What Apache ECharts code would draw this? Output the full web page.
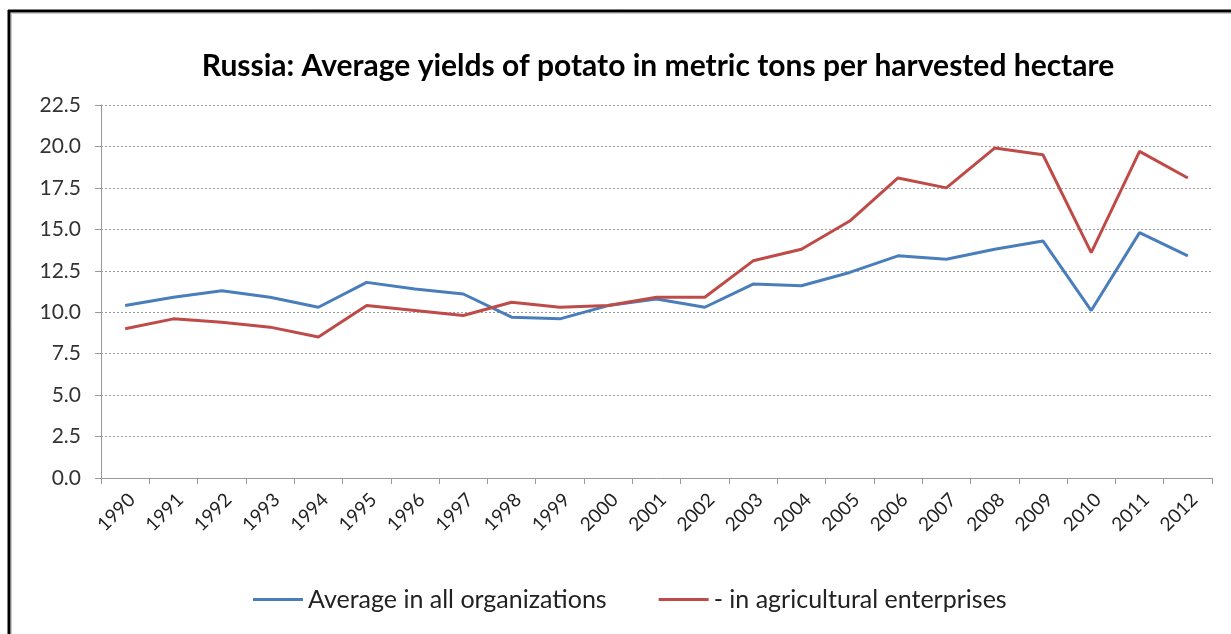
<!DOCTYPE html>
<html><head><meta charset="utf-8">
<script src="https://cdn.jsdelivr.net/npm/echarts@6/dist/echarts.min.js"></script>
<style>html,body{margin:0;padding:0;background:#fff}#c{width:1231px;height:634px}</style>
</head><body><div id="c"></div>
<script>
const years = ['1990','1991','1992','1993','1994','1995','1996','1997','1998','1999','2000','2001','2002','2003','2004','2005','2006','2007','2008','2009','2010','2011','2012'];
const avgAll = [10.4,10.9,11.3,10.9,10.3,11.8,11.4,11.1,9.7,9.6,10.4,10.8,10.3,11.7,11.6,12.4,13.4,13.2,13.8,14.3,10.1,14.8,13.4];
const agriEnt = [9.0,9.6,9.4,9.1,8.5,10.4,10.1,9.8,10.6,10.3,10.4,10.9,10.9,13.1,13.8,15.5,18.1,17.5,19.9,19.5,13.6,19.7,18.1];
const seriesNames = ['Average in all organizations','- in agricultural enterprises'];
const yTicks = {min:0, max:22.5, interval:2.5};

const chart = echarts.init(document.getElementById('c'));
chart.setOption({
  animation:false,
  backgroundColor:'#fff',
  title:{text:'Russia: Average yields of potato in metric tons per harvested hectare',left:653,top:46,textAlign:'center',
    textStyle:{fontFamily:'Lato',fontWeight:'bold',fontSize:30,color:'#000'}},
  legend:{top:582,left:248,itemGap:52,itemWidth:50,itemHeight:3,icon:'rect',
    textStyle:{fontFamily:'Lato',fontSize:25,color:'#222'},data:seriesNames},
  grid:{left:101,right:19,top:105,bottom:156,containLabel:false},
  xAxis:{type:'category',data:years,boundaryGap:true,
    axisLine:{lineStyle:{color:'#999',width:1}},
    axisTick:{show:true,length:6,lineStyle:{color:'#999'}},
    axisLabel:{rotate:45,fontFamily:'Lato',fontSize:19,color:'#222',margin:12,verticalAlign:'top'}},
  yAxis:{type:'value',min:yTicks.min,max:yTicks.max,interval:yTicks.interval,
    axisLine:{show:true,lineStyle:{color:'#999'}},
    axisTick:{show:true,length:6,lineStyle:{color:'#999'}},
    axisLabel:{fontFamily:'Lato',fontSize:21,color:'#333',margin:20,formatter:v=>v.toFixed(1)},
    splitLine:{lineStyle:{color:'#9a9a9a',type:[2,2],width:1}}},
  series:[
    {name:seriesNames[0],type:'line',data:avgAll,symbol:'none',lineStyle:{color:'#4a7ebb',width:3},itemStyle:{color:'#4a7ebb'}},
    {name:seriesNames[1],type:'line',data:agriEnt,symbol:'none',lineStyle:{color:'#be4b48',width:3},itemStyle:{color:'#be4b48'}}
  ],
  graphic:[
    {type:'line',shape:{x1:8,y1:11,x2:1231,y2:11},style:{stroke:'#000',lineWidth:3}},
    {type:'line',shape:{x1:9,y1:10,x2:9,y2:634},style:{stroke:'#000',lineWidth:3}},
    {type:'line',shape:{x1:11.5,y1:13.5,x2:1231,y2:13.5},style:{stroke:'#ccc',lineWidth:1}},
    {type:'line',shape:{x1:11.5,y1:13.5,x2:11.5,y2:634},style:{stroke:'#ccc',lineWidth:1}}
  ]
});
</script></body></html>
